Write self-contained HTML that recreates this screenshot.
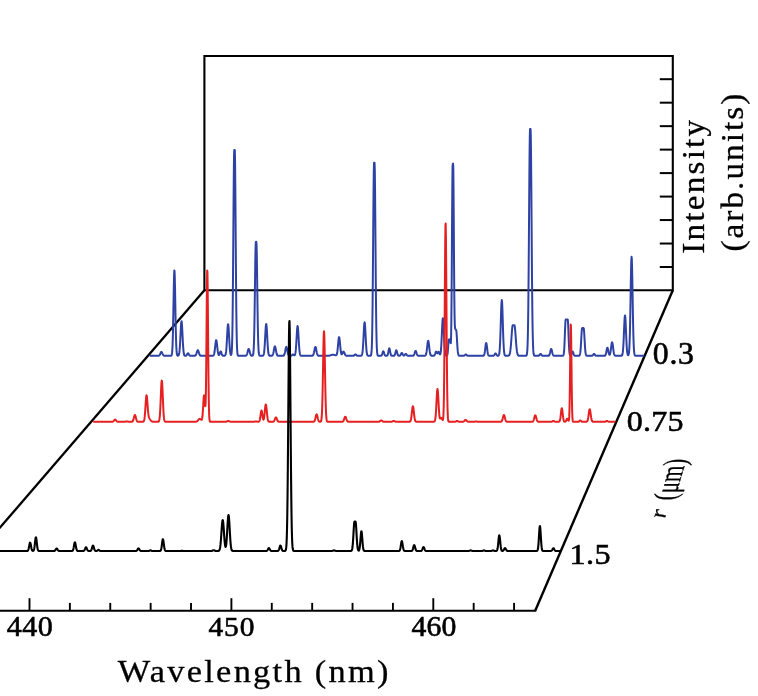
<!DOCTYPE html>
<html><head><meta charset="utf-8"><style>
html,body{margin:0;padding:0;background:#fff;}
body{width:758px;height:696px;overflow:hidden;position:relative;}
svg{position:absolute;left:0;top:0;font-family:"Liberation Serif",serif;will-change:transform;}
</style></head><body>
<svg width="758" height="696" viewBox="0 0 758 696">
<path d="M204.4 290.3 L204.4 56.0 L672.8 56.0 L672.8 290.3 Z" fill="none" stroke="#000" stroke-width="2.1" stroke-linejoin="miter"/>
<line x1="659.8" y1="79.20" x2="672.8" y2="79.20" stroke="#000" stroke-width="2"/>
<line x1="659.8" y1="102.68" x2="672.8" y2="102.68" stroke="#000" stroke-width="2"/>
<line x1="659.8" y1="126.15" x2="672.8" y2="126.15" stroke="#000" stroke-width="2"/>
<line x1="659.8" y1="149.62" x2="672.8" y2="149.62" stroke="#000" stroke-width="2"/>
<line x1="659.8" y1="173.10" x2="672.8" y2="173.10" stroke="#000" stroke-width="2"/>
<line x1="659.8" y1="196.57" x2="672.8" y2="196.57" stroke="#000" stroke-width="2"/>
<line x1="659.8" y1="220.05" x2="672.8" y2="220.05" stroke="#000" stroke-width="2"/>
<line x1="659.8" y1="243.53" x2="672.8" y2="243.53" stroke="#000" stroke-width="2"/>
<line x1="659.8" y1="267.00" x2="672.8" y2="267.00" stroke="#000" stroke-width="2"/>
<line x1="204.4" y1="290.3" x2="-148.50" y2="700" stroke="#000" stroke-width="2.3"/>
<path d="M672.8 290.3 L535.2 610.7" fill="none" stroke="#000" stroke-width="2.4"/>
<path d="M536.2 610.7 L-5 610.7" fill="none" stroke="#000" stroke-width="2.1"/>
<line x1="29.50" y1="610.7" x2="29.50" y2="598.20" stroke="#000" stroke-width="1.9"/>
<line x1="69.88" y1="610.7" x2="69.88" y2="602.90" stroke="#000" stroke-width="1.9"/>
<line x1="110.26" y1="610.7" x2="110.26" y2="602.90" stroke="#000" stroke-width="1.9"/>
<line x1="150.64" y1="610.7" x2="150.64" y2="602.90" stroke="#000" stroke-width="1.9"/>
<line x1="191.02" y1="610.7" x2="191.02" y2="602.90" stroke="#000" stroke-width="1.9"/>
<line x1="231.40" y1="610.7" x2="231.40" y2="598.20" stroke="#000" stroke-width="1.9"/>
<line x1="271.78" y1="610.7" x2="271.78" y2="602.90" stroke="#000" stroke-width="1.9"/>
<line x1="312.16" y1="610.7" x2="312.16" y2="602.90" stroke="#000" stroke-width="1.9"/>
<line x1="352.54" y1="610.7" x2="352.54" y2="602.90" stroke="#000" stroke-width="1.9"/>
<line x1="392.92" y1="610.7" x2="392.92" y2="602.90" stroke="#000" stroke-width="1.9"/>
<line x1="433.30" y1="610.7" x2="433.30" y2="598.20" stroke="#000" stroke-width="1.9"/>
<line x1="473.68" y1="610.7" x2="473.68" y2="602.90" stroke="#000" stroke-width="1.9"/>
<line x1="514.06" y1="610.7" x2="514.06" y2="602.90" stroke="#000" stroke-width="1.9"/>
<path d="M149.80 355.80 L158.05 355.79 L158.30 355.77 L158.55 355.73 L158.80 355.67 L159.05 355.55 L159.30 355.37 L159.55 355.10 L159.80 354.72 L160.05 354.23 L160.30 353.67 L160.55 353.08 L160.80 352.54 L161.05 352.13 L161.30 351.92 L161.55 351.94 L161.80 352.20 L162.05 352.64 L162.30 353.20 L162.55 353.79 L162.80 354.34 L163.05 354.80 L163.30 355.16 L163.55 355.41 L163.80 355.58 L164.05 355.68 L164.30 355.74 L164.55 355.77 L164.80 355.79 L170.55 355.79 L170.80 355.77 L171.05 355.72 L171.30 355.57 L171.55 355.23 L171.80 354.48 L172.05 352.96 L172.30 350.15 L172.55 345.41 L172.80 338.11 L173.05 327.91 L173.30 315.10 L173.55 300.81 L173.80 287.02 L174.05 276.16 L174.30 270.43 L174.55 271.08 L174.80 277.98 L175.05 289.62 L175.30 303.70 L175.55 317.83 L175.80 330.18 L176.05 339.80 L176.30 346.55 L176.55 350.85 L176.80 353.35 L177.05 354.67 L177.30 355.32 L177.55 355.60 L177.80 355.69 L178.05 355.69 L178.30 355.59 L178.55 355.35 L178.80 354.90 L179.05 354.08 L179.30 352.72 L179.55 350.63 L179.80 347.64 L180.05 343.71 L180.30 338.96 L180.55 333.77 L180.80 328.72 L181.05 324.53 L181.30 321.89 L181.55 321.24 L181.80 322.72 L182.05 326.06 L182.30 330.68 L182.55 335.86 L182.80 340.94 L183.05 345.39 L183.30 348.95 L183.55 351.57 L183.80 353.34 L184.05 354.46 L184.30 355.11 L184.55 355.47 L184.80 355.65 L185.05 355.73 L185.30 355.77 L185.55 355.77 L185.80 355.74 L186.05 355.67 L186.30 355.53 L186.55 355.30 L186.80 354.96 L187.05 354.52 L187.30 354.03 L187.55 353.58 L187.80 353.28 L188.05 353.21 L188.30 353.38 L188.55 353.75 L188.80 354.22 L189.05 354.70 L189.30 355.11 L189.55 355.40 L189.80 355.59 L190.05 355.70 L190.30 355.76 L190.55 355.78 L194.30 355.79 L194.55 355.77 L194.80 355.74 L195.05 355.67 L195.30 355.55 L195.55 355.35 L195.80 355.04 L196.05 354.59 L196.30 353.98 L196.55 353.24 L196.80 352.40 L197.05 351.57 L197.30 350.86 L197.55 350.37 L197.80 350.20 L198.05 350.37 L198.30 350.86 L198.55 351.57 L198.80 352.40 L199.05 353.24 L199.30 353.98 L199.55 354.59 L199.80 355.04 L200.05 355.35 L200.30 355.55 L200.55 355.67 L200.80 355.74 L201.05 355.77 L201.30 355.79 L212.30 355.79 L212.55 355.78 L212.80 355.75 L213.05 355.69 L213.30 355.57 L213.55 355.33 L213.80 354.92 L214.05 354.24 L214.30 353.22 L214.55 351.78 L214.80 349.91 L215.05 347.70 L215.30 345.33 L215.55 343.09 L215.80 341.31 L216.05 340.28 L216.30 340.18 L216.55 341.03 L216.80 342.69 L217.05 344.86 L217.30 347.23 L217.55 349.49 L217.80 351.43 L218.05 352.95 L218.30 354.02 L218.55 354.69 L218.80 355.00 L219.05 355.01 L219.30 354.72 L219.55 354.18 L219.80 353.44 L220.05 352.63 L220.30 351.91 L220.55 351.48 L220.80 351.43 L221.05 351.80 L221.30 352.48 L221.55 353.30 L221.80 354.09 L222.05 354.74 L222.30 355.20 L222.55 355.50 L222.80 355.66 L223.05 355.74 L223.30 355.78 L223.55 355.79 L224.05 355.79 L224.30 355.78 L224.55 355.74 L224.80 355.66 L225.05 355.50 L225.30 355.17 L225.55 354.57 L225.80 353.55 L226.05 351.92 L226.30 349.53 L226.55 346.26 L226.80 342.18 L227.05 337.53 L227.30 332.78 L227.55 328.55 L227.80 325.49 L228.05 324.14 L228.30 324.73 L228.55 327.15 L228.80 330.99 L229.05 335.61 L229.30 340.37 L229.55 344.72 L229.80 348.33 L230.05 351.06 L230.30 352.97 L230.55 354.18 L230.80 354.84 L231.05 355.02 L231.30 354.65 L231.55 353.43 L231.80 350.70 L232.05 345.41 L232.30 336.10 L232.55 321.21 L232.80 299.56 L233.05 271.15 L233.30 237.85 L233.55 203.64 L233.80 174.09 L234.05 154.92 L234.30 149.90 L234.55 149.90 L234.80 150.22 L235.05 161.03 L235.30 184.97 L235.55 217.10 L235.80 251.55 L236.05 283.26 L236.30 309.07 L236.55 327.93 L236.80 340.42 L237.05 347.94 L237.30 352.08 L237.55 354.17 L237.80 355.14 L238.05 355.55 L238.30 355.71 L238.55 355.77 L238.80 355.79 L245.05 355.79 L245.30 355.78 L245.55 355.75 L245.80 355.70 L246.05 355.59 L246.30 355.41 L246.55 355.12 L246.80 354.67 L247.05 354.03 L247.30 353.21 L247.55 352.24 L247.80 351.20 L248.05 350.21 L248.30 349.43 L248.55 348.98 L248.80 348.93 L249.05 349.31 L249.30 350.04 L249.55 350.99 L249.80 352.03 L250.05 353.03 L250.30 353.88 L250.55 354.55 L250.80 355.04 L251.05 355.36 L251.30 355.56 L251.55 355.68 L251.80 355.74 L252.05 355.76 L252.30 355.74 L252.55 355.66 L252.80 355.43 L253.05 354.90 L253.30 353.74 L253.55 351.45 L253.80 347.28 L254.05 340.37 L254.30 329.93 L254.55 315.64 L254.80 298.08 L255.05 279.01 L255.30 261.22 L255.55 247.96 L255.80 241.98 L256.05 241.80 L256.30 241.80 L256.55 244.58 L256.80 255.20 L257.05 271.55 L257.30 290.49 L257.55 308.93 L257.80 324.66 L258.05 336.65 L258.30 344.90 L258.55 350.05 L258.80 353.00 L259.05 354.53 L259.30 355.27 L259.55 355.60 L259.80 355.73 L260.05 355.78 L260.30 355.79 L262.30 355.78 L262.55 355.76 L262.80 355.70 L263.05 355.58 L263.30 355.32 L263.55 354.85 L263.80 354.01 L264.05 352.64 L264.30 350.55 L264.55 347.62 L264.80 343.83 L265.05 339.33 L265.30 334.52 L265.55 329.97 L265.80 326.35 L266.05 324.26 L266.30 324.06 L266.55 325.80 L266.80 329.15 L267.05 333.57 L267.30 338.38 L267.55 342.98 L267.80 346.93 L268.05 350.04 L268.30 352.28 L268.55 353.78 L268.80 354.71 L269.05 355.25 L269.30 355.54 L269.55 355.68 L269.80 355.75 L270.05 355.78 L271.30 355.79 L271.55 355.77 L271.80 355.72 L272.05 355.64 L272.30 355.48 L272.55 355.20 L272.80 354.75 L273.05 354.08 L273.30 353.16 L273.55 351.98 L273.80 350.61 L274.05 349.18 L274.30 347.86 L274.55 346.86 L274.80 346.35 L275.05 346.41 L275.30 347.03 L275.55 348.11 L275.80 349.46 L276.05 350.90 L276.30 352.23 L276.55 353.36 L276.80 354.24 L277.05 354.86 L277.30 355.27 L277.55 355.52 L277.80 355.66 L278.05 355.73 L278.30 355.77 L278.55 355.79 L282.80 355.78 L283.05 355.75 L283.30 355.70 L283.55 355.60 L283.80 355.41 L284.05 355.09 L284.30 354.60 L284.55 353.88 L284.80 352.91 L285.05 351.73 L285.30 350.40 L285.55 349.08 L285.80 347.95 L286.05 347.17 L286.30 346.90 L286.55 347.17 L286.80 347.95 L287.05 349.08 L287.30 350.40 L287.55 351.73 L287.80 352.91 L288.05 353.88 L288.30 354.60 L288.55 355.09 L288.80 355.41 L289.05 355.60 L289.30 355.70 L289.55 355.75 L289.80 355.78 L290.55 355.79 L290.80 355.77 L291.05 355.73 L291.30 355.65 L291.55 355.53 L291.80 355.35 L292.05 355.11 L292.30 354.85 L292.55 354.60 L292.80 354.44 L293.05 354.40 L293.30 354.49 L293.55 354.69 L293.80 354.93 L294.05 355.15 L294.30 355.30 L294.55 355.30 L294.80 355.10 L295.05 354.59 L295.30 353.66 L295.55 352.15 L295.80 349.90 L296.05 346.83 L296.30 343.00 L296.55 338.63 L296.80 334.16 L297.05 330.18 L297.30 327.31 L297.55 326.04 L297.80 326.59 L298.05 328.87 L298.30 332.48 L298.55 336.82 L298.80 341.29 L299.05 345.38 L299.30 348.77 L299.55 351.35 L299.80 353.15 L300.05 354.32 L300.30 355.02 L300.55 355.42 L300.80 355.62 L301.05 355.72 L301.30 355.77 L301.55 355.79 L311.80 355.79 L312.05 355.77 L312.30 355.73 L312.55 355.65 L312.80 355.50 L313.05 355.24 L313.30 354.82 L313.55 354.19 L313.80 353.33 L314.05 352.22 L314.30 350.94 L314.55 349.60 L314.80 348.37 L315.05 347.43 L315.30 346.94 L315.55 347.00 L315.80 347.58 L316.05 348.59 L316.30 349.86 L316.55 351.21 L316.80 352.46 L317.05 353.52 L317.30 354.34 L317.55 354.92 L317.80 355.30 L318.05 355.53 L318.30 355.67 L318.55 355.74 L318.80 355.77 L319.05 355.79 L327.30 355.78 L327.55 355.77 L327.80 355.76 L328.05 355.75 L328.30 355.73 L328.55 355.71 L328.80 355.68 L329.05 355.64 L329.30 355.60 L329.55 355.55 L329.80 355.49 L330.05 355.43 L330.30 355.36 L330.55 355.28 L330.80 355.20 L331.05 355.12 L331.30 355.03 L331.55 354.95 L331.80 354.88 L332.05 354.82 L332.30 354.77 L332.55 354.73 L332.80 354.71 L333.05 354.70 L333.30 354.71 L333.55 354.74 L333.80 354.78 L334.05 354.84 L334.30 354.91 L334.55 354.98 L334.80 355.06 L335.05 355.14 L335.30 355.22 L335.55 355.28 L335.80 355.31 L336.05 355.28 L336.30 355.15 L336.55 354.85 L336.80 354.29 L337.05 353.37 L337.30 351.99 L337.55 350.09 L337.80 347.71 L338.05 344.98 L338.30 342.19 L338.55 339.70 L338.80 337.91 L339.05 337.11 L339.30 337.46 L339.55 338.89 L339.80 341.16 L340.05 343.88 L340.30 346.67 L340.55 349.21 L340.80 351.28 L341.05 352.80 L341.30 353.76 L341.55 354.24 L341.80 354.32 L342.05 354.09 L342.30 353.64 L342.55 353.08 L342.80 352.49 L343.05 352.00 L343.30 351.68 L343.55 351.60 L343.80 351.78 L344.05 352.19 L344.30 352.75 L344.55 353.38 L344.80 354.00 L345.05 354.54 L345.30 354.97 L345.55 355.29 L345.80 355.50 L346.05 355.64 L346.30 355.72 L346.55 355.76 L346.80 355.78 L353.05 355.78 L353.30 355.76 L353.55 355.70 L353.80 355.61 L354.05 355.46 L354.30 355.26 L354.55 355.00 L354.80 354.74 L355.05 354.53 L355.30 354.41 L355.55 354.42 L355.80 354.56 L356.05 354.79 L356.30 355.06 L356.55 355.30 L356.80 355.50 L357.05 355.63 L357.30 355.72 L357.55 355.76 L357.80 355.78 L360.55 355.79 L360.80 355.78 L361.05 355.74 L361.30 355.66 L361.55 355.48 L361.80 355.14 L362.05 354.50 L362.30 353.42 L362.55 351.70 L362.80 349.17 L363.05 345.72 L363.30 341.41 L363.55 336.50 L363.80 331.47 L364.05 327.00 L364.30 323.77 L364.55 322.34 L364.80 322.96 L365.05 325.53 L365.30 329.58 L365.55 334.47 L365.80 339.49 L366.05 344.09 L366.30 347.90 L366.55 350.80 L366.80 352.82 L367.05 354.13 L367.30 354.92 L367.55 355.37 L367.80 355.60 L368.05 355.71 L368.30 355.76 L368.55 355.79 L370.05 355.79 L370.30 355.77 L370.55 355.70 L370.80 355.52 L371.05 355.05 L371.30 353.99 L371.55 351.72 L371.80 347.32 L372.05 339.45 L372.30 326.64 L372.55 307.65 L372.80 282.20 L373.05 251.64 L373.30 219.35 L373.55 190.31 L373.80 170.01 L374.05 162.70 L374.30 162.70 L374.55 162.70 L374.80 170.01 L375.05 190.31 L375.30 219.35 L375.55 251.64 L375.80 282.20 L376.05 307.65 L376.30 326.64 L376.55 339.45 L376.80 347.32 L377.05 351.72 L377.30 353.99 L377.55 355.05 L377.80 355.52 L378.05 355.70 L378.30 355.77 L378.55 355.79 L380.55 355.79 L380.80 355.77 L381.05 355.71 L381.30 355.60 L381.55 355.39 L381.80 355.02 L382.05 354.47 L382.30 353.74 L382.55 352.90 L382.80 352.10 L383.05 351.51 L383.30 351.30 L383.55 351.51 L383.80 352.10 L384.05 352.90 L384.30 353.74 L384.55 354.47 L384.80 355.02 L385.05 355.39 L385.30 355.60 L385.55 355.71 L385.80 355.77 L386.05 355.79 L386.30 355.79 L386.55 355.78 L386.80 355.74 L387.05 355.66 L387.30 355.47 L387.55 355.11 L387.80 354.51 L388.05 353.59 L388.30 352.37 L388.55 350.97 L388.80 349.63 L389.05 348.66 L389.30 348.30 L389.55 348.66 L389.80 349.63 L390.05 350.97 L390.30 352.37 L390.55 353.59 L390.80 354.51 L391.05 355.11 L391.30 355.47 L391.55 355.66 L391.80 355.74 L392.05 355.78 L392.30 355.79 L393.55 355.79 L393.80 355.76 L394.05 355.69 L394.30 355.56 L394.55 355.30 L394.80 354.85 L395.05 354.18 L395.30 353.28 L395.55 352.26 L395.80 351.28 L396.05 350.56 L396.30 350.30 L396.55 350.56 L396.80 351.28 L397.05 352.26 L397.30 353.28 L397.55 354.18 L397.80 354.85 L398.05 355.30 L398.30 355.56 L398.55 355.69 L398.80 355.76 L399.05 355.78 L399.30 355.77 L399.55 355.74 L399.80 355.67 L400.05 355.53 L400.30 355.30 L400.55 354.94 L400.80 354.47 L401.05 353.93 L401.30 353.41 L401.55 353.04 L401.80 352.90 L402.05 353.04 L402.30 353.41 L402.55 353.93 L402.80 354.47 L403.05 354.94 L403.30 355.29 L403.55 355.50 L403.80 355.59 L404.05 355.57 L404.30 355.45 L404.55 355.23 L404.80 354.93 L405.05 354.57 L405.30 354.24 L405.55 353.99 L405.80 353.90 L406.05 353.99 L406.30 354.24 L406.55 354.58 L406.80 354.93 L407.05 355.24 L407.30 355.47 L407.55 355.63 L407.80 355.72 L408.05 355.76 L408.30 355.79 L412.55 355.78 L412.80 355.76 L413.05 355.71 L413.30 355.61 L413.55 355.43 L413.80 355.14 L414.05 354.69 L414.30 354.07 L414.55 353.32 L414.80 352.50 L415.05 351.73 L415.30 351.16 L415.55 350.91 L415.80 351.02 L416.05 351.48 L416.30 352.18 L416.55 352.99 L416.80 353.79 L417.05 354.46 L417.30 354.98 L417.55 355.33 L417.80 355.55 L418.05 355.68 L418.30 355.75 L418.55 355.78 L418.80 355.79 L424.55 355.78 L424.80 355.75 L425.05 355.69 L425.30 355.58 L425.55 355.35 L425.80 354.96 L426.05 354.31 L426.30 353.33 L426.55 351.95 L426.80 350.17 L427.05 348.06 L427.30 345.80 L427.55 343.66 L427.80 341.95 L428.05 340.97 L428.30 340.87 L428.55 341.69 L428.80 343.27 L429.05 345.35 L429.30 347.61 L429.55 349.77 L429.80 351.63 L430.05 353.09 L430.30 354.15 L430.55 354.85 L430.80 355.29 L431.05 355.54 L431.30 355.68 L431.55 355.75 L431.80 355.78 L432.05 355.79 L433.30 355.79 L433.55 355.77 L433.80 355.73 L434.05 355.64 L434.30 355.47 L434.55 355.16 L434.80 354.68 L435.05 354.02 L435.30 353.25 L435.55 352.48 L435.80 351.88 L436.05 351.58 L436.30 351.67 L436.55 352.07 L436.80 352.63 L437.05 353.13 L437.30 353.39 L437.55 353.34 L437.80 353.00 L438.05 352.51 L438.30 352.07 L438.55 351.87 L438.80 352.00 L439.05 352.44 L439.30 353.08 L439.55 353.73 L439.80 354.23 L440.05 354.40 L440.30 354.11 L440.55 353.22 L440.80 351.55 L441.05 348.95 L441.30 345.30 L441.55 340.64 L441.80 335.21 L442.05 329.53 L442.30 324.31 L442.55 320.34 L442.80 318.29 L443.05 318.52 L443.30 321.00 L443.55 325.28 L443.80 330.65 L444.05 336.34 L444.30 341.65 L444.55 346.14 L444.80 349.60 L445.05 352.06 L445.30 353.68 L445.55 354.67 L445.80 355.24 L446.05 355.54 L446.30 355.68 L446.55 355.74 L446.80 355.72 L447.05 355.56 L447.30 355.08 L447.55 353.93 L447.80 351.71 L448.05 348.29 L448.30 344.21 L448.55 340.76 L448.80 339.40 L449.05 339.40 L449.30 339.40 L449.55 339.39 L449.80 339.35 L450.05 339.26 L450.30 340.64 L450.55 342.90 L450.80 343.23 L451.05 338.20 L451.30 324.41 L451.55 299.50 L451.80 263.99 L452.05 223.11 L452.30 186.74 L452.55 166.12 L452.80 164.01 L453.05 163.66 L453.30 167.34 L453.55 190.67 L453.80 227.02 L454.05 264.93 L454.30 295.48 L454.55 315.05 L454.80 324.76 L455.05 328.13 L455.30 328.82 L455.55 329.36 L455.80 329.75 L456.05 329.86 L456.30 330.52 L456.55 332.94 L456.80 336.66 L457.05 340.96 L457.30 345.15 L457.55 348.73 L457.80 351.45 L458.05 353.32 L458.30 354.49 L458.55 355.16 L458.80 355.51 L459.05 355.68 L459.30 355.75 L459.55 355.78 L463.30 355.79 L463.55 355.77 L463.80 355.74 L464.05 355.67 L464.30 355.56 L464.55 355.39 L464.80 355.16 L465.05 354.90 L465.30 354.65 L465.55 354.47 L465.80 354.40 L466.05 354.47 L466.30 354.65 L466.55 354.90 L466.80 355.16 L467.05 355.39 L467.30 355.56 L467.55 355.67 L467.80 355.74 L468.05 355.77 L468.30 355.79 L482.80 355.79 L483.05 355.77 L483.30 355.73 L483.55 355.63 L483.80 355.43 L484.05 355.06 L484.30 354.42 L484.55 353.42 L484.80 351.98 L485.05 350.14 L485.30 348.04 L485.55 345.94 L485.80 344.20 L486.05 343.18 L486.30 343.08 L486.55 343.93 L486.80 345.55 L487.05 347.61 L487.30 349.74 L487.55 351.64 L487.80 353.16 L488.05 354.25 L488.30 354.96 L488.55 355.38 L488.80 355.60 L489.05 355.71 L489.30 355.77 L489.55 355.79 L492.80 355.79 L493.05 355.78 L493.30 355.75 L493.55 355.68 L493.80 355.55 L494.05 355.34 L494.30 355.02 L494.55 354.61 L494.80 354.16 L495.05 353.75 L495.30 353.47 L495.55 353.40 L495.80 353.56 L496.05 353.91 L496.30 354.34 L496.55 354.79 L496.80 355.16 L497.05 355.43 L497.30 355.61 L497.55 355.70 L497.80 355.74 L498.05 355.74 L498.30 355.67 L498.55 355.52 L498.80 355.18 L499.05 354.53 L499.30 353.35 L499.55 351.37 L499.80 348.26 L500.05 343.75 L500.30 337.72 L500.55 330.30 L500.80 322.02 L501.05 313.76 L501.30 306.64 L501.55 301.81 L501.80 300.10 L502.05 301.81 L502.30 306.64 L502.55 313.76 L502.80 322.02 L503.05 330.30 L503.30 337.72 L503.55 343.75 L503.80 348.26 L504.05 351.37 L504.30 353.35 L504.55 354.53 L504.80 355.18 L505.05 355.52 L505.30 355.68 L505.55 355.75 L505.80 355.78 L507.80 355.78 L508.05 355.76 L508.30 355.72 L508.55 355.65 L508.80 355.53 L509.05 355.32 L509.30 354.98 L509.55 354.46 L509.80 353.67 L510.05 352.53 L510.30 350.98 L510.55 348.96 L510.80 346.43 L511.05 343.43 L511.30 340.07 L511.55 336.53 L511.80 333.04 L512.05 329.89 L512.30 327.38 L512.55 325.76 L512.80 325.20 L513.05 325.20 L513.30 325.20 L513.55 325.20 L513.80 325.20 L514.05 325.20 L514.30 325.20 L514.55 325.40 L514.80 326.61 L515.05 328.80 L515.30 331.72 L515.55 335.11 L515.80 338.67 L516.05 342.13 L516.30 345.28 L516.55 348.01 L516.80 350.23 L517.05 351.97 L517.30 353.26 L517.55 354.18 L517.80 354.80 L518.05 355.21 L518.30 355.46 L518.55 355.61 L518.80 355.70 L519.05 355.75 L519.30 355.77 L519.55 355.79 L525.55 355.79 L525.80 355.77 L526.05 355.72 L526.30 355.60 L526.55 355.30 L526.80 354.65 L527.05 353.28 L527.30 350.63 L527.55 345.84 L527.80 337.76 L528.05 325.11 L528.30 306.75 L528.55 282.17 L528.80 251.96 L529.05 218.24 L529.30 184.60 L529.55 155.65 L529.80 135.98 L530.05 129.00 L530.30 129.00 L530.55 129.00 L530.80 135.98 L531.05 155.65 L531.30 184.60 L531.55 218.24 L531.80 251.96 L532.05 282.17 L532.30 306.75 L532.55 325.11 L532.80 337.76 L533.05 345.84 L533.30 350.63 L533.55 353.28 L533.80 354.65 L534.05 355.30 L534.30 355.60 L534.55 355.72 L534.80 355.77 L535.05 355.79 L538.05 355.79 L538.30 355.77 L538.55 355.73 L538.80 355.65 L539.05 355.51 L539.30 355.29 L539.55 355.00 L539.80 354.65 L540.05 354.30 L540.30 354.03 L540.55 353.90 L540.80 353.96 L541.05 354.18 L541.30 354.50 L541.55 354.86 L541.80 355.18 L542.05 355.43 L542.30 355.60 L542.55 355.70 L542.80 355.76 L543.05 355.78 L548.05 355.78 L548.30 355.76 L548.55 355.71 L548.80 355.60 L549.05 355.40 L549.30 355.06 L549.55 354.51 L549.80 353.74 L550.05 352.75 L550.30 351.61 L550.55 350.48 L550.80 349.55 L551.05 349.00 L551.30 348.94 L551.55 349.40 L551.80 350.27 L552.05 351.38 L552.30 352.53 L552.55 353.56 L552.80 354.38 L553.05 354.97 L553.30 355.35 L553.55 355.57 L553.80 355.69 L554.05 355.75 L554.30 355.78 L562.55 355.78 L562.80 355.75 L563.05 355.65 L563.30 355.40 L563.55 354.82 L563.80 353.64 L564.05 351.47 L564.30 347.95 L564.55 342.88 L564.80 336.52 L565.05 329.71 L565.30 323.77 L565.55 320.13 L565.80 319.50 L566.05 319.50 L566.30 319.50 L566.55 319.50 L566.80 319.50 L567.05 319.50 L567.30 319.50 L567.55 319.50 L567.80 319.78 L568.05 322.81 L568.30 328.40 L568.55 335.16 L568.80 341.70 L569.05 347.06 L569.30 350.89 L569.55 353.29 L569.80 354.63 L570.05 355.27 L570.30 355.52 L570.55 355.51 L570.80 355.32 L571.05 354.94 L571.30 354.37 L571.55 353.63 L571.80 352.80 L572.05 352.04 L572.30 351.54 L572.55 351.41 L572.80 351.70 L573.05 352.33 L573.30 353.13 L573.55 353.94 L573.80 354.62 L574.05 355.13 L574.30 355.45 L574.55 355.63 L574.80 355.73 L575.05 355.77 L575.30 355.79 L578.55 355.79 L578.80 355.77 L579.05 355.73 L579.30 355.62 L579.55 355.37 L579.80 354.88 L580.05 353.98 L580.30 352.45 L580.55 350.10 L580.80 346.81 L581.05 342.67 L581.30 338.07 L581.55 333.62 L581.80 330.12 L582.05 328.27 L582.30 328.10 L582.55 328.10 L582.80 328.10 L583.05 328.10 L583.30 328.10 L583.55 328.10 L583.80 328.48 L584.05 330.71 L584.30 334.46 L584.55 339.00 L584.80 343.56 L585.05 347.54 L585.30 350.64 L585.55 352.82 L585.80 354.20 L586.05 355.01 L586.30 355.44 L586.55 355.65 L586.80 355.74 L587.05 355.78 L587.30 355.79 L591.55 355.78 L591.80 355.76 L592.05 355.70 L592.30 355.60 L592.55 355.43 L592.80 355.18 L593.05 354.86 L593.30 354.50 L593.55 354.18 L593.80 353.96 L594.05 353.90 L594.30 354.03 L594.55 354.30 L594.80 354.65 L595.05 355.00 L595.30 355.29 L595.55 355.51 L595.80 355.65 L596.05 355.73 L596.30 355.77 L596.55 355.79 L604.05 355.79 L604.30 355.78 L604.55 355.75 L604.80 355.68 L605.05 355.53 L605.30 355.27 L605.55 354.82 L605.80 354.13 L606.05 353.17 L606.30 351.96 L606.55 350.61 L606.80 349.31 L607.05 348.29 L607.30 347.75 L607.55 347.81 L607.80 348.46 L608.05 349.56 L608.30 350.88 L608.55 352.19 L608.80 353.33 L609.05 354.16 L609.30 354.66 L609.55 354.81 L609.80 354.61 L610.05 354.04 L610.30 353.08 L610.55 351.72 L610.80 349.99 L611.05 348.02 L611.30 346.00 L611.55 344.19 L611.80 342.89 L612.05 342.32 L612.30 342.57 L612.55 343.60 L612.80 345.23 L613.05 347.20 L613.30 349.23 L613.55 351.08 L613.80 352.62 L614.05 353.78 L614.30 354.60 L614.55 355.13 L614.80 355.45 L615.05 355.63 L615.30 355.72 L615.55 355.76 L615.80 355.79 L621.05 355.78 L621.30 355.76 L621.55 355.69 L621.80 355.56 L622.05 355.28 L622.30 354.74 L622.55 353.79 L622.80 352.21 L623.05 349.76 L623.30 346.28 L623.55 341.68 L623.80 336.14 L624.05 330.07 L624.30 324.18 L624.55 319.29 L624.80 316.20 L625.05 315.45 L625.30 317.18 L625.55 321.07 L625.80 326.46 L626.05 332.52 L626.30 338.45 L626.55 343.65 L626.80 347.80 L627.05 350.86 L627.30 352.92 L627.55 354.21 L627.80 354.93 L628.05 355.23 L628.30 355.20 L628.55 354.78 L628.80 353.80 L629.05 351.95 L629.30 348.76 L629.55 343.68 L629.80 336.19 L630.05 325.99 L630.30 313.23 L630.55 298.70 L630.80 283.84 L631.05 270.61 L631.30 261.06 L631.55 256.82 L631.80 258.66 L632.05 266.24 L632.30 278.23 L632.55 292.69 L632.80 307.56 L633.05 321.16 L633.30 332.44 L633.55 341.00 L633.80 346.99 L634.05 350.87 L634.30 353.21 L634.55 354.52 L634.80 355.21 L635.05 355.54 L635.30 355.69 L635.55 355.76 L635.80 355.79 L644.30 355.80" fill="none" stroke="#2e42a4" stroke-width="2.0" stroke-linejoin="round" stroke-linecap="butt"/>
<path d="M93.20 421.80 L111.95 421.78 L112.20 421.77 L112.45 421.73 L112.70 421.68 L112.95 421.58 L113.20 421.44 L113.45 421.24 L113.70 420.97 L113.95 420.66 L114.20 420.33 L114.45 420.02 L114.70 419.77 L114.95 419.62 L115.20 419.61 L115.45 419.73 L115.70 419.96 L115.95 420.27 L116.20 420.60 L116.45 420.92 L116.70 421.19 L116.95 421.40 L117.20 421.56 L117.45 421.66 L117.70 421.73 L117.95 421.76 L118.20 421.78 L123.95 421.79 L124.20 421.78 L124.45 421.76 L124.70 421.73 L124.95 421.70 L125.20 421.65 L125.45 421.59 L125.70 421.53 L125.95 421.48 L126.20 421.43 L126.45 421.40 L126.70 421.40 L126.95 421.42 L127.20 421.47 L127.45 421.52 L127.70 421.58 L127.95 421.64 L128.20 421.69 L128.45 421.73 L128.70 421.76 L128.95 421.77 L129.20 421.79 L131.45 421.78 L131.70 421.76 L131.95 421.71 L132.20 421.62 L132.45 421.46 L132.70 421.20 L132.95 420.78 L133.20 420.20 L133.45 419.42 L133.70 418.49 L133.95 417.47 L134.20 416.48 L134.45 415.65 L134.70 415.13 L134.95 415.01 L135.20 415.30 L135.45 415.95 L135.70 416.86 L135.95 417.88 L136.20 418.88 L136.45 419.75 L136.70 420.45 L136.95 420.97 L137.20 421.32 L137.45 421.54 L137.70 421.67 L137.95 421.74 L138.20 421.77 L138.45 421.79 L142.70 421.78 L142.95 421.75 L143.20 421.69 L143.45 421.55 L143.70 421.28 L143.95 420.79 L144.20 419.96 L144.45 418.63 L144.70 416.67 L144.95 414.00 L145.20 410.66 L145.45 406.83 L145.70 402.88 L145.95 399.32 L146.20 396.67 L146.45 395.34 L146.70 395.53 L146.95 397.17 L147.20 399.92 L147.45 403.29 L147.70 406.79 L147.95 409.99 L148.20 412.65 L148.45 414.68 L148.70 416.14 L148.95 417.15 L149.20 417.85 L149.45 418.38 L149.70 418.81 L149.95 419.20 L150.20 419.57 L150.45 419.93 L150.70 420.27 L150.95 420.58 L151.20 420.85 L151.45 421.09 L151.70 421.28 L151.95 421.43 L152.20 421.54 L152.45 421.62 L152.70 421.68 L152.95 421.73 L153.20 421.75 L153.45 421.77 L153.70 421.78 L157.70 421.79 L157.95 421.77 L158.20 421.74 L158.45 421.65 L158.70 421.46 L158.95 421.09 L159.20 420.39 L159.45 419.18 L159.70 417.24 L159.95 414.32 L160.20 410.29 L160.45 405.16 L160.70 399.19 L160.95 392.95 L161.20 387.22 L161.45 382.86 L161.70 380.61 L161.95 380.86 L162.20 383.58 L162.45 388.28 L162.70 394.19 L162.95 400.43 L163.20 406.26 L163.45 411.19 L163.70 414.99 L163.95 417.70 L164.20 419.48 L164.45 420.56 L164.70 421.18 L164.95 421.51 L165.20 421.67 L165.45 421.75 L165.70 421.78 L165.95 421.79 L194.95 421.78 L195.20 421.77 L195.45 421.76 L195.70 421.73 L195.95 421.69 L196.20 421.64 L196.45 421.56 L196.70 421.46 L196.95 421.32 L197.20 421.15 L197.45 420.95 L197.70 420.71 L197.95 420.44 L198.20 420.16 L198.45 419.87 L198.70 419.58 L198.95 419.33 L199.20 419.12 L199.45 418.98 L199.70 418.91 L199.95 418.91 L200.20 419.00 L200.45 419.15 L200.70 419.36 L200.95 419.58 L201.20 419.78 L201.45 419.87 L201.70 419.74 L201.95 419.23 L202.20 418.13 L202.45 416.24 L202.70 413.42 L202.95 409.72 L203.20 405.44 L203.45 401.16 L203.70 397.60 L203.95 395.50 L204.20 395.29 L204.45 397.00 L204.70 400.11 L204.95 403.64 L205.20 406.16 L205.45 405.88 L205.70 400.64 L205.95 388.38 L206.20 368.00 L206.45 340.63 L206.70 310.58 L206.95 284.77 L207.20 270.48 L207.45 272.20 L207.70 289.42 L207.95 316.98 L208.20 347.52 L208.45 374.70 L208.70 395.07 L208.95 408.23 L209.20 415.63 L209.45 419.29 L209.70 420.89 L209.95 421.50 L210.20 421.71 L210.45 421.78 L210.70 421.79 L225.20 421.79 L225.45 421.78 L225.70 421.76 L225.95 421.73 L226.20 421.68 L226.45 421.61 L226.70 421.51 L226.95 421.39 L227.20 421.25 L227.45 421.12 L227.70 421.01 L227.95 420.93 L228.20 420.90 L228.45 420.93 L228.70 421.01 L228.95 421.12 L229.20 421.25 L229.45 421.39 L229.70 421.51 L229.95 421.61 L230.20 421.68 L230.45 421.73 L230.70 421.76 L230.95 421.78 L231.20 421.79 L253.45 421.78 L253.70 421.76 L253.95 421.74 L254.20 421.71 L254.45 421.66 L254.70 421.61 L254.95 421.55 L255.20 421.49 L255.45 421.44 L255.70 421.41 L255.95 421.40 L256.20 421.42 L256.45 421.46 L256.70 421.51 L256.95 421.57 L257.20 421.63 L257.45 421.68 L257.70 421.72 L257.95 421.75 L258.20 421.76 L258.45 421.75 L258.70 421.70 L258.95 421.59 L259.20 421.36 L259.45 420.95 L259.70 420.26 L259.95 419.21 L260.20 417.78 L260.45 416.03 L260.70 414.12 L260.95 412.34 L261.20 411.02 L261.45 410.42 L261.70 410.67 L261.95 411.73 L262.20 413.35 L262.45 415.21 L262.70 416.97 L262.95 418.39 L263.20 419.29 L263.45 419.61 L263.70 419.31 L263.95 418.38 L264.20 416.84 L264.45 414.75 L264.70 412.28 L264.95 409.67 L265.20 407.26 L265.45 405.43 L265.70 404.49 L265.95 404.59 L266.20 405.74 L266.45 407.71 L266.70 410.19 L266.95 412.82 L267.20 415.27 L267.45 417.34 L267.70 418.94 L267.95 420.08 L268.20 420.82 L268.45 421.28 L268.70 421.54 L268.95 421.68 L269.20 421.75 L269.45 421.78 L269.70 421.79 L272.45 421.79 L272.70 421.77 L272.95 421.74 L273.20 421.69 L273.45 421.58 L273.70 421.41 L273.95 421.14 L274.20 420.76 L274.45 420.26 L274.70 419.66 L274.95 419.00 L275.20 418.36 L275.45 417.82 L275.70 417.49 L275.95 417.41 L276.20 417.59 L276.45 418.02 L276.70 418.60 L276.95 419.26 L277.20 419.91 L277.45 420.48 L277.70 420.93 L277.95 421.26 L278.20 421.49 L278.45 421.63 L278.70 421.71 L278.95 421.76 L279.20 421.78 L312.95 421.79 L313.20 421.78 L313.45 421.75 L313.70 421.69 L313.95 421.58 L314.20 421.38 L314.45 421.06 L314.70 420.57 L314.95 419.88 L315.20 418.99 L315.45 417.93 L315.70 416.80 L315.95 415.73 L316.20 414.88 L316.45 414.38 L316.70 414.34 L316.95 414.75 L317.20 415.54 L317.45 416.57 L317.70 417.70 L317.95 418.78 L318.20 419.71 L318.45 420.45 L318.70 420.97 L318.95 421.33 L319.20 421.54 L319.45 421.67 L319.70 421.74 L319.95 421.76 L320.20 421.76 L320.45 421.71 L320.70 421.58 L320.95 421.28 L321.20 420.62 L321.45 419.33 L321.70 416.96 L321.95 412.96 L322.20 406.73 L322.45 397.84 L322.70 386.24 L322.95 372.56 L323.20 358.18 L323.45 345.09 L323.70 335.51 L323.95 331.23 L324.20 333.09 L324.45 340.73 L324.70 352.66 L324.95 366.79 L325.20 380.96 L325.45 393.50 L325.70 403.51 L325.95 410.77 L326.20 415.59 L326.45 418.54 L326.70 420.20 L326.95 421.07 L327.20 421.49 L327.45 421.68 L327.70 421.75 L327.95 421.78 L341.95 421.78 L342.20 421.76 L342.45 421.71 L342.70 421.62 L342.95 421.47 L343.20 421.23 L343.45 420.86 L343.70 420.35 L343.95 419.71 L344.20 418.96 L344.45 418.18 L344.70 417.46 L344.95 416.91 L345.20 416.63 L345.45 416.66 L345.70 417.00 L345.95 417.59 L346.20 418.33 L346.45 419.12 L346.70 419.85 L346.95 420.47 L347.20 420.94 L347.45 421.28 L347.70 421.51 L347.95 421.64 L348.20 421.72 L348.45 421.76 L348.70 421.78 L378.20 421.78 L378.45 421.77 L378.70 421.74 L378.95 421.69 L379.20 421.61 L379.45 421.50 L379.70 421.35 L379.95 421.16 L380.20 420.95 L380.45 420.74 L380.70 420.56 L380.95 420.44 L381.20 420.40 L381.45 420.44 L381.70 420.56 L381.95 420.74 L382.20 420.95 L382.45 421.16 L382.70 421.35 L382.95 421.50 L383.20 421.61 L383.45 421.69 L383.70 421.74 L383.95 421.77 L384.20 421.78 L390.70 421.79 L390.95 421.78 L391.20 421.76 L391.45 421.73 L391.70 421.68 L391.95 421.61 L392.20 421.51 L392.45 421.39 L392.70 421.25 L392.95 421.12 L393.20 421.01 L393.45 420.93 L393.70 420.90 L393.95 420.93 L394.20 421.01 L394.45 421.12 L394.70 421.25 L394.95 421.39 L395.20 421.51 L395.45 421.61 L395.70 421.68 L395.95 421.73 L396.20 421.76 L396.45 421.78 L396.70 421.79 L409.20 421.78 L409.45 421.76 L409.70 421.71 L409.95 421.60 L410.20 421.39 L410.45 421.02 L410.70 420.41 L410.95 419.47 L411.20 418.12 L411.45 416.35 L411.70 414.21 L411.95 411.87 L412.20 409.59 L412.45 407.70 L412.70 406.51 L412.95 406.22 L413.20 406.89 L413.45 408.39 L413.70 410.47 L413.95 412.81 L414.20 415.10 L414.45 417.11 L414.70 418.71 L414.95 419.89 L415.20 420.69 L415.45 421.20 L415.70 421.49 L415.95 421.65 L416.20 421.73 L416.45 421.77 L416.70 421.79 L433.45 421.79 L433.70 421.78 L433.95 421.74 L434.20 421.66 L434.45 421.49 L434.70 421.15 L434.95 420.53 L435.20 419.47 L435.45 417.79 L435.70 415.31 L435.95 411.93 L436.20 407.71 L436.45 402.90 L436.70 397.98 L436.95 393.60 L437.20 390.44 L437.45 389.04 L437.70 389.64 L437.95 392.14 L438.20 396.08 L438.45 400.82 L438.70 405.66 L438.95 410.03 L439.20 413.54 L439.45 416.06 L439.70 417.62 L439.95 418.38 L440.20 418.58 L440.45 418.43 L440.70 418.16 L440.95 417.93 L441.20 417.86 L441.45 418.01 L441.70 418.35 L441.95 418.84 L442.20 419.39 L442.45 419.87 L442.70 420.09 L442.95 419.73 L443.20 418.22 L443.45 414.51 L443.70 407.08 L443.95 394.01 L444.20 373.59 L444.45 345.27 L444.70 310.80 L444.95 274.76 L445.20 243.90 L445.45 225.24 L445.70 223.44 L445.95 239.00 L446.20 267.94 L446.45 303.53 L446.70 338.78 L446.95 368.57 L447.20 390.64 L447.45 405.14 L447.70 413.66 L447.95 418.17 L448.20 420.32 L448.45 421.25 L448.70 421.61 L448.95 421.74 L449.20 421.78 L454.70 421.79 L454.95 421.77 L455.20 421.73 L455.45 421.66 L455.70 421.56 L455.95 421.42 L456.20 421.25 L456.45 421.09 L456.70 420.96 L456.95 420.90 L457.20 420.93 L457.45 421.03 L457.70 421.19 L457.95 421.36 L458.20 421.51 L458.45 421.63 L458.70 421.71 L458.95 421.75 L459.20 421.78 L459.45 421.79 L462.45 421.79 L462.70 421.77 L462.95 421.74 L463.20 421.69 L463.45 421.61 L463.70 421.49 L463.95 421.31 L464.20 421.09 L464.45 420.82 L464.70 420.53 L464.95 420.26 L465.20 420.05 L465.45 419.92 L465.70 419.91 L465.95 420.01 L466.20 420.21 L466.45 420.48 L466.70 420.76 L466.95 421.04 L467.20 421.27 L467.45 421.46 L467.70 421.59 L467.95 421.68 L468.20 421.74 L468.45 421.77 L468.70 421.78 L473.70 421.78 L473.95 421.77 L474.20 421.75 L474.45 421.71 L474.70 421.67 L474.95 421.62 L475.20 421.56 L475.45 421.50 L475.70 421.45 L475.95 421.41 L476.20 421.40 L476.45 421.41 L476.70 421.45 L476.95 421.50 L477.20 421.56 L477.45 421.62 L477.70 421.67 L477.95 421.71 L478.20 421.75 L478.45 421.77 L478.70 421.78 L500.45 421.78 L500.70 421.76 L500.95 421.71 L501.20 421.62 L501.45 421.46 L501.70 421.20 L501.95 420.78 L502.20 420.20 L502.45 419.42 L502.70 418.49 L502.95 417.47 L503.20 416.48 L503.45 415.65 L503.70 415.13 L503.95 415.01 L504.20 415.30 L504.45 415.95 L504.70 416.86 L504.95 417.88 L505.20 418.88 L505.45 419.75 L505.70 420.45 L505.95 420.97 L506.20 421.32 L506.45 421.54 L506.70 421.67 L506.95 421.74 L507.20 421.77 L507.45 421.79 L531.70 421.79 L531.95 421.78 L532.20 421.75 L532.45 421.69 L532.70 421.58 L532.95 421.39 L533.20 421.08 L533.45 420.63 L533.70 419.99 L533.95 419.19 L534.20 418.25 L534.45 417.27 L534.70 416.37 L534.95 415.69 L535.20 415.33 L535.45 415.37 L535.70 415.80 L535.95 416.54 L536.20 417.46 L536.45 418.44 L536.70 419.36 L536.95 420.13 L537.20 420.73 L537.45 421.16 L537.70 421.44 L537.95 421.61 L538.20 421.70 L538.45 421.75 L538.70 421.78 L538.95 421.79 L550.95 421.79 L551.20 421.78 L551.45 421.75 L551.70 421.71 L551.95 421.63 L552.20 421.51 L552.45 421.36 L552.70 421.19 L552.95 421.03 L553.20 420.93 L553.45 420.90 L553.70 420.96 L553.95 421.09 L554.20 421.25 L554.45 421.42 L554.70 421.56 L554.95 421.66 L555.20 421.73 L555.45 421.77 L555.70 421.79 L558.45 421.79 L558.70 421.76 L558.95 421.71 L559.20 421.59 L559.45 421.35 L559.70 420.91 L559.95 420.16 L560.20 419.00 L560.45 417.38 L560.70 415.36 L560.95 413.09 L561.20 410.91 L561.45 409.19 L561.70 408.28 L561.95 408.39 L562.20 409.48 L562.45 411.32 L562.70 413.55 L562.95 415.79 L563.20 417.74 L563.45 419.27 L563.70 420.34 L563.95 421.02 L564.20 421.41 L564.45 421.61 L564.70 421.70 L564.95 421.71 L565.20 421.65 L565.45 421.51 L565.70 421.26 L565.95 420.89 L566.20 420.38 L566.45 419.80 L566.70 419.25 L566.95 418.85 L567.20 418.70 L567.45 418.85 L567.70 419.25 L567.95 419.80 L568.20 420.35 L568.45 420.74 L568.70 420.73 L568.95 419.80 L569.20 416.90 L569.45 410.34 L569.70 398.25 L569.95 379.90 L570.20 357.47 L570.45 336.59 L570.70 324.46 L570.95 325.89 L571.20 340.29 L571.45 362.06 L571.70 384.03 L571.95 401.21 L572.20 412.12 L572.45 417.87 L572.70 420.43 L572.95 421.39 L573.20 421.69 L573.45 421.78 L573.70 421.80 L577.70 421.79 L577.95 421.77 L578.20 421.74 L578.45 421.67 L578.70 421.56 L578.95 421.39 L579.20 421.16 L579.45 420.90 L579.70 420.65 L579.95 420.47 L580.20 420.40 L580.45 420.47 L580.70 420.65 L580.95 420.90 L581.20 421.16 L581.45 421.39 L581.70 421.56 L581.95 421.67 L582.20 421.74 L582.45 421.77 L582.70 421.79 L585.95 421.79 L586.20 421.77 L586.45 421.74 L586.70 421.66 L586.95 421.51 L587.20 421.25 L587.45 420.80 L587.70 420.09 L587.95 419.08 L588.20 417.71 L588.45 416.03 L588.70 414.16 L588.95 412.29 L589.20 410.68 L589.45 409.59 L589.70 409.20 L589.95 409.59 L590.20 410.68 L590.45 412.29 L590.70 414.16 L590.95 416.03 L591.20 417.71 L591.45 419.08 L591.70 420.09 L591.95 420.80 L592.20 421.25 L592.45 421.51 L592.70 421.66 L592.95 421.74 L593.20 421.77 L593.45 421.79 L604.45 421.79 L604.70 421.78 L604.95 421.75 L605.20 421.71 L605.45 421.63 L605.70 421.51 L605.95 421.36 L606.20 421.19 L606.45 421.03 L606.70 420.93 L606.95 420.90 L607.20 420.96 L607.45 421.09 L607.70 421.25 L607.95 421.42 L608.20 421.56 L608.45 421.66 L608.70 421.73 L608.95 421.77 L609.20 421.79 L615.45 421.80" fill="none" stroke="#e62020" stroke-width="2.0" stroke-linejoin="round" stroke-linecap="butt"/>
<path d="M-2.00 551.00 L26.75 550.99 L27.00 550.98 L27.25 550.94 L27.50 550.87 L27.75 550.72 L28.00 550.45 L28.25 549.98 L28.50 549.27 L28.75 548.27 L29.00 547.02 L29.25 545.62 L29.50 544.27 L29.75 543.21 L30.00 542.65 L30.25 542.72 L30.50 543.39 L30.75 544.53 L31.00 545.91 L31.25 547.29 L31.50 548.49 L31.75 549.43 L32.00 550.09 L32.25 550.51 L32.50 550.75 L32.75 550.86 L33.00 550.88 L33.25 550.80 L33.50 550.60 L33.75 550.21 L34.00 549.52 L34.25 548.45 L34.50 546.91 L34.75 544.94 L35.00 542.69 L35.25 540.45 L35.50 538.59 L35.75 537.49 L36.00 537.38 L36.25 538.30 L36.50 540.03 L36.75 542.23 L37.00 544.51 L37.25 546.55 L37.50 548.18 L37.75 549.34 L38.00 550.10 L38.25 550.55 L38.50 550.79 L38.75 550.91 L39.00 550.96 L39.25 550.99 L53.75 550.99 L54.00 550.97 L54.25 550.94 L54.50 550.87 L54.75 550.76 L55.00 550.58 L55.25 550.32 L55.50 549.97 L55.75 549.57 L56.00 549.15 L56.25 548.79 L56.50 548.56 L56.75 548.50 L57.00 548.64 L57.25 548.93 L57.50 549.32 L57.75 549.73 L58.00 550.12 L58.25 550.43 L58.50 550.66 L58.75 550.81 L59.00 550.90 L59.25 550.95 L59.50 550.98 L71.75 550.98 L72.00 550.95 L72.25 550.89 L72.50 550.75 L72.75 550.50 L73.00 550.06 L73.25 549.38 L73.50 548.41 L73.75 547.15 L74.00 545.72 L74.25 544.30 L74.50 543.12 L74.75 542.42 L75.00 542.35 L75.25 542.93 L75.50 544.03 L75.75 545.43 L76.00 546.88 L76.25 548.18 L76.50 549.21 L76.75 549.95 L77.00 550.43 L77.25 550.71 L77.50 550.87 L77.75 550.94 L78.00 550.98 L78.25 550.99 L83.00 550.99 L83.25 550.96 L83.50 550.92 L83.75 550.83 L84.00 550.68 L84.25 550.43 L84.50 550.05 L84.75 549.55 L85.00 548.95 L85.25 548.31 L85.50 547.74 L85.75 547.34 L86.00 547.20 L86.25 547.34 L86.50 547.74 L86.75 548.31 L87.00 548.95 L87.25 549.55 L87.50 550.05 L87.75 550.43 L88.00 550.68 L88.25 550.83 L88.50 550.92 L88.75 550.96 L89.00 550.99 L89.75 550.99 L90.00 550.98 L90.25 550.95 L90.50 550.88 L90.75 550.76 L91.00 550.53 L91.25 550.17 L91.50 549.63 L91.75 548.90 L92.00 548.03 L92.25 547.11 L92.50 546.29 L92.75 545.71 L93.00 545.50 L93.25 545.71 L93.50 546.29 L93.75 547.11 L94.00 548.03 L94.25 548.90 L94.50 549.63 L94.75 550.17 L95.00 550.53 L95.25 550.76 L95.50 550.88 L95.75 550.95 L96.00 550.97 L96.25 550.97 L96.50 550.95 L96.75 550.90 L97.00 550.81 L97.25 550.68 L97.50 550.50 L97.75 550.29 L98.00 550.10 L98.25 549.95 L98.50 549.90 L98.75 549.95 L99.00 550.10 L99.25 550.29 L99.50 550.50 L99.75 550.68 L100.00 550.81 L100.25 550.90 L100.50 550.95 L100.75 550.98 L101.00 550.99 L135.50 550.99 L135.75 550.98 L136.00 550.95 L136.25 550.89 L136.50 550.78 L136.75 550.61 L137.00 550.35 L137.25 550.01 L137.50 549.60 L137.75 549.16 L138.00 548.77 L138.25 548.50 L138.50 548.40 L138.75 548.50 L139.00 548.77 L139.25 549.16 L139.50 549.60 L139.75 550.01 L140.00 550.35 L140.25 550.61 L140.50 550.78 L140.75 550.89 L141.00 550.95 L141.25 550.98 L141.50 550.99 L148.25 550.98 L148.50 550.96 L148.75 550.93 L149.00 550.87 L149.25 550.79 L149.50 550.68 L149.75 550.57 L150.00 550.47 L150.25 550.41 L150.50 550.40 L150.75 550.45 L151.00 550.55 L151.25 550.66 L151.50 550.77 L151.75 550.86 L152.00 550.92 L152.25 550.96 L152.50 550.98 L159.50 550.99 L159.75 550.97 L160.00 550.93 L160.25 550.85 L160.50 550.66 L160.75 550.32 L161.00 549.73 L161.25 548.80 L161.50 547.48 L161.75 545.78 L162.00 543.84 L162.25 541.91 L162.50 540.31 L162.75 539.36 L163.00 539.27 L163.25 540.06 L163.50 541.55 L163.75 543.45 L164.00 545.41 L164.25 547.17 L164.50 548.57 L164.75 549.57 L165.00 550.22 L165.25 550.61 L165.50 550.82 L165.75 550.92 L166.00 550.97 L166.25 550.99 L179.25 550.98 L179.50 550.98 L179.75 550.97 L180.00 550.96 L180.25 550.95 L180.50 550.94 L180.75 550.93 L181.00 550.92 L181.25 550.91 L181.50 550.91 L181.75 550.90 L182.00 550.90 L182.25 550.90 L182.50 550.91 L182.75 550.91 L183.00 550.92 L183.25 550.93 L183.50 550.94 L183.75 550.95 L184.00 550.96 L184.25 550.97 L184.50 550.98 L184.75 550.98 L211.25 550.98 L211.50 550.96 L211.75 550.92 L212.00 550.87 L212.25 550.78 L212.50 550.67 L212.75 550.54 L213.00 550.41 L213.25 550.29 L213.50 550.22 L213.75 550.20 L214.00 550.24 L214.25 550.34 L214.50 550.46 L214.75 550.59 L215.00 550.72 L215.25 550.82 L215.50 550.89 L215.75 550.94 L216.00 550.97 L216.25 550.99 L217.75 550.99 L218.00 550.97 L218.25 550.95 L218.50 550.89 L218.75 550.79 L219.00 550.61 L219.25 550.31 L219.50 549.83 L219.75 549.09 L220.00 547.99 L220.25 546.46 L220.50 544.41 L220.75 541.82 L221.00 538.71 L221.25 535.18 L221.50 531.45 L221.75 527.78 L222.00 524.50 L222.25 521.95 L222.50 520.39 L222.75 520.02 L223.00 520.88 L223.25 522.86 L223.50 525.73 L223.75 529.20 L224.00 532.92 L224.25 536.56 L224.50 539.87 L224.75 542.65 L225.00 544.79 L225.25 546.21 L225.50 546.90 L225.75 546.82 L226.00 545.95 L226.25 544.26 L226.50 541.74 L226.75 538.44 L227.00 534.48 L227.25 530.09 L227.50 525.61 L227.75 521.46 L228.00 518.08 L228.25 515.87 L228.50 515.10 L228.75 515.87 L229.00 518.08 L229.25 521.47 L229.50 525.63 L229.75 530.13 L230.00 534.56 L230.25 538.60 L230.50 542.05 L230.75 544.81 L231.00 546.90 L231.25 548.40 L231.50 549.42 L231.75 550.08 L232.00 550.49 L232.25 550.73 L232.50 550.86 L232.75 550.93 L233.00 550.97 L233.25 550.99 L266.00 550.98 L266.25 550.96 L266.50 550.92 L266.75 550.83 L267.00 550.69 L267.25 550.46 L267.50 550.14 L267.75 549.72 L268.00 549.24 L268.25 548.77 L268.50 548.37 L268.75 548.14 L269.00 548.12 L269.25 548.31 L269.50 548.68 L269.75 549.14 L270.00 549.63 L270.25 550.06 L270.50 550.40 L270.75 550.65 L271.00 550.81 L271.25 550.90 L271.50 550.96 L271.75 550.98 L277.25 550.99 L277.50 550.97 L277.75 550.93 L278.00 550.84 L278.25 550.68 L278.50 550.41 L278.75 549.98 L279.00 549.36 L279.25 548.57 L279.50 547.66 L279.75 546.76 L280.00 546.02 L280.25 545.58 L280.50 545.53 L280.75 545.90 L281.00 546.60 L281.25 547.48 L281.50 548.39 L281.75 549.21 L282.00 549.87 L282.25 550.33 L282.50 550.64 L282.75 550.82 L283.00 550.92 L283.25 550.96 L283.50 550.99 L284.50 550.99 L284.75 550.97 L285.00 550.92 L285.25 550.81 L285.50 550.57 L285.75 550.06 L286.00 549.05 L286.25 547.17 L286.50 543.85 L286.75 538.31 L287.00 529.62 L287.25 516.80 L287.50 499.03 L287.75 476.01 L288.00 448.23 L288.25 417.26 L288.50 385.71 L288.75 357.01 L289.00 334.78 L289.25 322.14 L289.50 320.95 L289.75 331.40 L290.00 351.93 L290.25 379.62 L290.50 410.89 L290.75 442.22 L291.00 470.80 L291.25 494.84 L291.50 513.66 L291.75 527.42 L292.00 536.86 L292.25 542.95 L292.50 546.64 L292.75 548.76 L293.00 549.91 L293.25 550.49 L293.50 550.78 L293.75 550.91 L294.00 550.96 L294.25 550.99 L331.50 550.99 L331.75 550.97 L332.00 550.95 L332.25 550.91 L332.50 550.85 L332.75 550.77 L333.00 550.68 L333.25 550.58 L333.50 550.49 L333.75 550.42 L334.00 550.40 L334.25 550.42 L334.50 550.49 L334.75 550.58 L335.00 550.68 L335.25 550.77 L335.50 550.85 L335.75 550.91 L336.00 550.95 L336.25 550.97 L336.50 550.99 L350.50 550.99 L350.75 550.97 L351.00 550.94 L351.25 550.85 L351.50 550.67 L351.75 550.33 L352.00 549.70 L352.25 548.65 L352.50 547.01 L352.75 544.62 L353.00 541.42 L353.25 537.49 L353.50 533.11 L353.75 528.73 L354.00 524.97 L354.25 522.41 L354.50 521.50 L354.75 521.50 L355.00 521.50 L355.25 521.50 L355.50 521.50 L355.75 522.41 L356.00 524.97 L356.25 528.73 L356.50 533.11 L356.75 537.49 L357.00 541.42 L357.25 544.62 L357.50 547.01 L357.75 548.65 L358.00 549.69 L358.25 550.28 L358.50 550.56 L358.75 550.59 L359.00 550.37 L359.25 549.83 L359.50 548.86 L359.75 547.31 L360.00 545.09 L360.25 542.25 L360.50 538.99 L360.75 535.75 L361.00 533.06 L361.25 531.47 L361.50 531.32 L361.75 532.64 L362.00 535.15 L362.25 538.32 L362.50 541.62 L362.75 544.57 L363.00 546.92 L363.25 548.61 L363.50 549.70 L363.75 550.35 L364.00 550.69 L364.25 550.87 L364.50 550.95 L364.75 550.98 L398.50 550.99 L398.75 550.97 L399.00 550.92 L399.25 550.82 L399.50 550.62 L399.75 550.26 L400.00 549.66 L400.25 548.75 L400.50 547.51 L400.75 545.99 L401.00 544.33 L401.25 542.79 L401.50 541.64 L401.75 541.12 L402.00 541.34 L402.25 542.26 L402.50 543.68 L402.75 545.33 L403.00 546.93 L403.25 548.30 L403.50 549.34 L403.75 550.05 L404.00 550.50 L404.25 550.76 L404.50 550.89 L404.75 550.95 L405.00 550.98 L411.00 550.99 L411.25 550.97 L411.50 550.93 L411.75 550.85 L412.00 550.70 L412.25 550.44 L412.50 550.01 L412.75 549.39 L413.00 548.57 L413.25 547.62 L413.50 546.64 L413.75 545.79 L414.00 545.24 L414.25 545.11 L414.50 545.42 L414.75 546.10 L415.00 547.03 L415.25 548.01 L415.50 548.92 L415.75 549.66 L416.00 550.20 L416.25 550.56 L416.50 550.77 L416.75 550.89 L417.00 550.95 L417.25 550.98 L420.50 550.98 L420.75 550.96 L421.00 550.92 L421.25 550.83 L421.50 550.67 L421.75 550.41 L422.00 550.03 L422.25 549.51 L422.50 548.90 L422.75 548.24 L423.00 547.66 L423.25 547.25 L423.50 547.10 L423.75 547.25 L424.00 547.66 L424.25 548.24 L424.50 548.90 L424.75 549.51 L425.00 550.03 L425.25 550.41 L425.50 550.67 L425.75 550.83 L426.00 550.92 L426.25 550.96 L426.50 550.98 L468.25 550.98 L468.50 550.96 L468.75 550.93 L469.00 550.88 L469.25 550.81 L469.50 550.72 L469.75 550.62 L470.00 550.52 L470.25 550.44 L470.50 550.40 L470.75 550.41 L471.00 550.46 L471.25 550.54 L471.50 550.64 L471.75 550.73 L472.00 550.82 L472.25 550.89 L472.50 550.94 L472.75 550.97 L473.00 550.98 L481.75 550.98 L482.00 550.96 L482.25 550.93 L482.50 550.87 L482.75 550.79 L483.00 550.68 L483.25 550.57 L483.50 550.47 L483.75 550.41 L484.00 550.40 L484.25 550.45 L484.50 550.55 L484.75 550.66 L485.00 550.77 L485.25 550.86 L485.50 550.92 L485.75 550.96 L486.00 550.98 L491.00 550.98 L491.25 550.96 L491.50 550.92 L491.75 550.86 L492.00 550.77 L492.25 550.66 L492.50 550.55 L492.75 550.45 L493.00 550.40 L493.25 550.41 L493.50 550.47 L493.75 550.57 L494.00 550.68 L494.25 550.79 L494.50 550.87 L494.75 550.93 L495.00 550.96 L495.25 550.98 L496.00 550.98 L496.25 550.95 L496.50 550.87 L496.75 550.71 L497.00 550.40 L497.25 549.82 L497.50 548.86 L497.75 547.41 L498.00 545.43 L498.25 543.00 L498.50 540.36 L498.75 537.89 L499.00 536.05 L499.25 535.22 L499.50 535.59 L499.75 537.06 L500.00 539.32 L500.25 541.95 L500.50 544.50 L500.75 546.68 L501.00 548.35 L501.25 549.49 L501.50 550.20 L501.75 550.61 L502.00 550.81 L502.25 550.90 L502.50 550.91 L502.75 550.86 L503.00 550.75 L503.25 550.56 L503.50 550.28 L503.75 549.89 L504.00 549.44 L504.25 548.95 L504.50 548.51 L504.75 548.21 L505.00 548.10 L505.25 548.21 L505.50 548.51 L505.75 548.95 L506.00 549.44 L506.25 549.89 L506.50 550.28 L506.75 550.56 L507.00 550.75 L507.25 550.87 L507.50 550.94 L507.75 550.97 L508.00 550.99 L536.50 550.98 L536.75 550.95 L537.00 550.86 L537.25 550.67 L537.50 550.29 L537.75 549.56 L538.00 548.31 L538.25 546.34 L538.50 543.54 L538.75 539.95 L539.00 535.84 L539.25 531.74 L539.50 528.35 L539.75 526.34 L540.00 526.15 L540.25 527.82 L540.50 530.98 L540.75 535.00 L541.00 539.15 L541.25 542.88 L541.50 545.85 L541.75 547.98 L542.00 549.36 L542.25 550.17 L542.50 550.61 L542.75 550.83 L543.00 550.93 L543.25 550.98 L543.50 550.99 L550.50 550.98 L550.75 550.96 L551.00 550.92 L551.25 550.84 L551.50 550.70 L551.75 550.48 L552.00 550.16 L552.25 549.76 L552.50 549.30 L552.75 548.84 L553.00 548.46 L553.25 548.24 L553.50 548.22 L553.75 548.40 L554.00 548.76 L554.25 549.21 L554.50 549.67 L554.75 550.09 L555.00 550.42 L555.25 550.66 L555.50 550.82 L555.75 550.91 L556.00 550.96 L556.25 550.98 L560.50 551.00" fill="none" stroke="#000000" stroke-width="2.1" stroke-linejoin="round" stroke-linecap="butt"/>
<text transform="matrix(1.0381,0.0000,0.0000,0.9842,6.8619,635.7000)" font-size="29" letter-spacing="0.396" fill="#000" stroke="#000" stroke-width="0.593">440</text>
<text transform="matrix(1.0163,0.0000,0.0000,0.9684,208.5837,635.7000)" font-size="29" letter-spacing="0.785" fill="#000" stroke="#000" stroke-width="0.605">450</text>
<text transform="matrix(1.0262,0.0000,0.0000,0.9842,411.4738,635.7000)" font-size="29" letter-spacing="0.156" fill="#000" stroke="#000" stroke-width="0.597">460</text>
<text transform="matrix(1.0419,0.0000,0.0000,0.9806,117.8000,682.0355)" font-size="33" letter-spacing="2.185" fill="#000" stroke="#000" stroke-width="0.297">Wavelength (nm)</text>
<text transform="matrix(1.0115,0.0000,0.0000,0.9714,652.8385,363.7000)" font-size="31.5" letter-spacing="0.656" fill="#000" stroke="#000" stroke-width="0.605">0.3</text>
<text transform="matrix(1.0176,0.0000,0.0000,0.9667,626.8324,431.4000)" font-size="31.5" letter-spacing="0.209" fill="#000" stroke="#000" stroke-width="0.605">0.75</text>
<text transform="matrix(1.0222,0.0000,0.0000,0.9667,569.5333,564.4000)" font-size="31.5" letter-spacing="0.457" fill="#000" stroke="#000" stroke-width="0.603">1.5</text>
<text transform="matrix(0.0000,-1.0359,0.9750,0.0000,704.2750,253.7359)" font-size="32" letter-spacing="2.163" fill="#000" stroke="#000" stroke-width="0.298">Intensity</text>
<text transform="matrix(0.0000,-1.0373,0.9565,0.0000,742.7000,251.5373)" font-size="32" letter-spacing="1.979" fill="#000" stroke="#000" stroke-width="0.301">(arb.units)</text>
<text transform="matrix(0.2200,-0.7333,0.7520,0.0000,665.1000,518.3333)" font-size="32" fill="#000" stroke="#000" stroke-width="0.352"><tspan font-style="italic">r</tspan></text>
<text transform="matrix(0.1962,-0.6541,1.0000,0.0000,674.4188,500.2541)" font-size="32" fill="#000" stroke="#000" stroke-width="0.324">(μm)</text>
</svg>
</body></html>
